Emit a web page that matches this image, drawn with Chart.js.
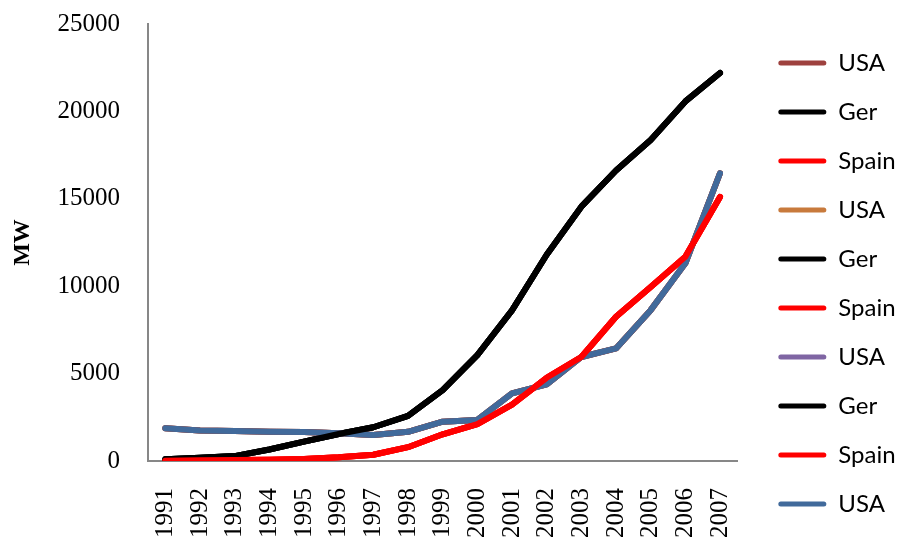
<!DOCTYPE html>
<html>
<head>
<meta charset="utf-8">
<title>Installed wind capacity, MW</title>
<script src="https://cdn.jsdelivr.net/npm/chart.js@4/dist/chart.umd.min.js"></script>
<style>
  html, body { margin: 0; padding: 0; background: #ffffff; }
  #wrap { width: 898px; height: 543px; }
</style>
</head>
<body>
<div id="wrap"><canvas id="c" width="898" height="543"></canvas></div>
<script>
// Years on the category axis
const years = ['1991','1992','1993','1994','1995','1996','1997','1998','1999','2000','2001','2002','2003','2004','2005','2006','2007'];

// Cumulative installed wind capacity (MW)
const ger   = [100, 180, 280, 660, 1110, 1545, 1930, 2580, 4060, 6060, 8620, 11800, 14550, 16620, 18370, 20570, 22200];
const spain = [10, 40, 55, 75, 120, 210, 360, 790, 1530, 2110, 3220, 4760, 5950, 8250, 9960, 11680, 15110];
const usa   = [1880, 1740, 1720, 1680, 1660, 1590, 1490, 1670, 2250, 2350, 3870, 4380, 5950, 6440, 8630, 11310, 16460];

// Value-axis tick labels
const yTickValues = [0, 5000, 10000, 15000, 20000, 25000];

// Series as listed in the legend (repeated sheets of the same three countries)
const seriesNames  = ['USA', 'Ger', 'Spain', 'USA', 'Ger', 'Spain', 'USA', 'Ger', 'Spain', 'USA'];
const seriesData   = [usa, ger, spain, usa, ger, spain, usa, ger, spain, usa];
const seriesColors = ['#9E413E', '#000000', '#FF0000', '#C87A3C', '#000000', '#FF0000', '#7F65A3', '#000000', '#FF0000', '#416A9B'];
// Draw order: red on top, then black, then the blue USA line, repeats underneath
const seriesOrder  = [3, 3, 3, 3, 3, 3, 3, 1, 0, 2];

const datasets = seriesNames.map((name, i) => ({
  label: name,
  data: seriesData[i],
  borderColor: seriesColors[i],
  backgroundColor: seriesColors[i],
  borderWidth: 6,
  borderCapStyle: 'round',
  borderJoinStyle: 'round',
  pointRadius: 0,
  pointHoverRadius: 0,
  tension: 0,
  fill: false,
  order: seriesOrder[i]
}));

const axisGrey = '#878787';

new Chart(document.getElementById('c'), {
  type: 'line',
  data: { labels: years, datasets },
  options: {
    responsive: false,
    animation: false,
    devicePixelRatio: 1,
    layout: { padding: { top: 24, right: -6, bottom: 0, left: 0 } },
    plugins: {
      tooltip: { enabled: false },
      legend: {
        position: 'right',
        align: 'center',
        labels: {
          font: { family: 'Lato', size: 24 },
          color: '#000000',
          boxWidth: 48,
          boxHeight: 5,
          padding: 25,
          useBorderRadius: true,
          borderRadius: 2.5,
          sort: (a, b) => a.datasetIndex - b.datasetIndex,
          generateLabels: (chart) =>
            Chart.defaults.plugins.legend.labels.generateLabels(chart).map(l => ({
              ...l, lineWidth: 0, fillStyle: l.strokeStyle
            }))
        }
      }
    },
    scales: {
      x: {
        type: 'category',
        offset: true,
        // tick marks are not painted; their length only spaces the labels from the axis
        grid: { display: false, drawTicks: true, tickLength: 27 },
        border: { display: true, color: axisGrey, width: 2 },
        ticks: {
          autoSkip: false,
          maxRotation: 90,
          minRotation: 90,
          padding: 0,
          color: '#000000',
          font: { family: 'Liberation Serif', size: 25 }
        },
        afterFit: (s) => { s.height = 82; }
      },
      y: {
        min: 0,
        max: 25000,
        grid: { display: false, drawTicks: true, tickLength: 28 },
        border: { display: true, color: axisGrey, width: 2 },
        ticks: {
          padding: 0,
          color: '#000000',
          font: { family: 'Liberation Serif', size: 25 },
          callback: (v) => String(v)
        },
        afterBuildTicks: (s) => { s.ticks = yTickValues.map(v => ({ value: v })); },
        title: {
          display: true,
          text: 'MW',
          color: '#000000',
          font: { family: 'Liberation Serif', size: 24, weight: 'bold' },
          padding: { top: 8, bottom: 0 }
        },
        afterFit: (s) => { s.width = 148; }
      },
      // empty spacer between the plot area and the legend
      gap: {
        type: 'linear',
        position: 'right',
        display: true,
        grid: { display: false, drawTicks: false },
        border: { display: false },
        ticks: { display: false },
        afterFit: (s) => { s.width = 16; }
      }
    }
  }
});
</script>
</body>
</html>
